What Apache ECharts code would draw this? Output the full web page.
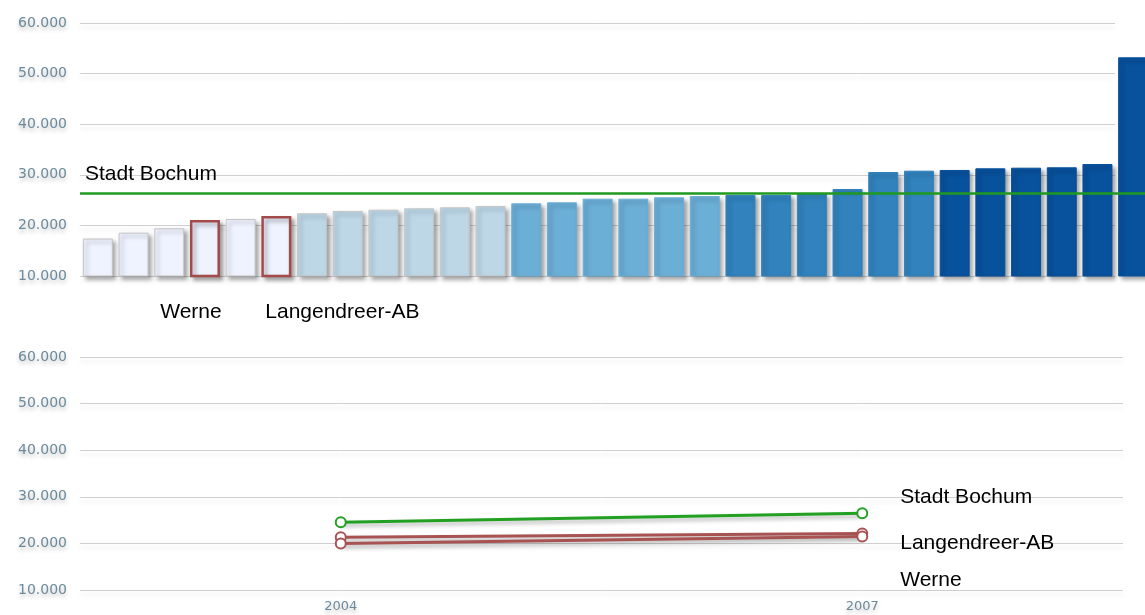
<!DOCTYPE html>
<html><head><meta charset="utf-8">
<script src="https://cdn.jsdelivr.net/npm/echarts@6/dist/echarts.min.js"></script>
<style>html,body{margin:0;padding:0;background:#fff}#c{width:1145px;height:615px}</style>
</head><body><div id="c"></div>
<script>
// ---- data ----
const districts = ['1','2','3','Werne','5','Langendreer-AB','7','8','9','10','11','12','13','14','15','16','17','18','19','20','21','22','23','24','25','26','27','28','29','30'];
const incomeValues = [17400,18560,19430,21070,21260,21860,22390,22850,23100,23370,23570,23830,24360,24560,25280,25280,25550,25810,26010,26010,26400,27190,30550,30810,30950,31280,31400,31480,32130,53220];
const classColors = ['#eff3ff','#bdd7e7','#6baed6','#3182bd','#08519c'];
const cityAverage = 26340;
const cityName = 'Stadt Bochum';
const highlighted = ['Werne','Langendreer-AB'];
const years = ['2004','2007'];
const bochumSeries = [24530,26460];
const langendreerSeries = [21300,22100];
const werneSeries = [20000,21500];
const yTicks = {min:10000,max:60000,interval:10000};

// ---- chart ----
const fmt = v => String(v).replace(/\B(?=(\d{3})+(?!\d))/g,'.');
const axisLabelStyle = {color:'#6b8a9c',fontFamily:'DejaVu Sans',fontSize:14,margin:13,
  formatter:fmt,textShadowColor:'rgba(0,0,0,0.25)',textShadowBlur:4,textShadowOffsetY:3};
const splitLine = {show:true,lineStyle:{color:'#cfcfcf',width:1,shadowColor:'rgba(0,0,0,0.12)',shadowBlur:4,shadowOffsetY:4}};
const textFont = {color:'#000',fontFamily:'Liberation Sans',fontSize:21};
const noAxis = {axisLine:{show:false},axisTick:{show:false},axisLabel:{show:false},splitLine:{show:false}};

const barData = incomeValues.map((v,i)=>{
  const cls = Math.floor(i/6);
  const name = districts[i];
  const hl = highlighted.indexOf(name);
  const item = {value:v,itemStyle:{color:classColors[cls],
    borderColor: hl>=0 ? '#a34a4a' : (cls<2 ? '#c4c4c4' : classColors[cls]),
    borderWidth: hl>=0 ? 2.5 : 1}};
  if(hl>=0){
    item.label = Object.assign({show:true,position:'bottom',distance:24,formatter:name,
      offset: hl===0 ? [-14,0] : [66,0]},textFont);
  }
  return item;
});

const lineCommon = (name,data,color,dy)=>({
  type:'line',name:name,data:data,xAxisIndex:1,yAxisIndex:1,
  symbol:'emptyCircle',symbolSize:10,
  lineStyle:{color:color,width:3,shadowColor:'rgba(0,0,0,0.3)',shadowBlur:4,shadowOffsetY:3},
  itemStyle:{color:color,borderColor:color,borderWidth:2.5},
  endLabel:Object.assign({show:true,formatter:name,offset:[30,dy]},textFont),
  z:3
});

const chart = echarts.init(document.getElementById('c'),null,{renderer:'canvas'});
chart.setOption({
  animation:false,
  backgroundColor:'#fff',
  grid:[{left:80,width:1071,top:23,height:253,outerBoundsMode:'none'},
        {left:80,right:22,top:357,height:233,outerBoundsMode:'none'},
        {left:80,right:30,top:23,height:253,outerBoundsMode:'none'}],
  xAxis:[
    Object.assign({type:'category',gridIndex:0,data:districts},noAxis),
    {type:'category',gridIndex:1,data:years,boundaryGap:true,axisLine:{show:false},axisTick:{show:false},
      axisLabel:{color:'#6b8a9c',fontFamily:'DejaVu Sans',fontSize:13,margin:10,
        textShadowColor:'rgba(0,0,0,0.25)',textShadowBlur:4,textShadowOffsetY:3}},
    Object.assign({type:'value',gridIndex:2,min:0,max:1},noAxis)
  ],
  yAxis:[
    Object.assign({type:'value',gridIndex:0},noAxis,yTicks),
    Object.assign({type:'value',gridIndex:1,axisLine:{show:false},axisTick:{show:false},axisLabel:axisLabelStyle,splitLine:splitLine},yTicks),
    Object.assign({type:'value',gridIndex:2,axisLine:{show:false},axisTick:{show:false},axisLabel:axisLabelStyle,splitLine:splitLine},yTicks)
  ],
  series:[
    {type:'bar',xAxisIndex:0,yAxisIndex:0,data:barData,barWidth:30,z:3,
      itemStyle:{shadowColor:'rgba(0,0,0,0.35)',shadowBlur:4,shadowOffsetX:3,shadowOffsetY:3},
      markLine:{silent:true,symbol:['none','none'],
        lineStyle:{color:'#1f9a1f',width:2.5,type:'solid'},
        label:Object.assign({show:true,position:'insideStartTop',formatter:cityName,distance:[5,9]},textFont),
        data:[{yAxis:cityAverage}]}},
    lineCommon(cityName,bochumSeries,'#22a022',-16),
    lineCommon('Langendreer-AB',langendreerSeries,'#a85252',10),
    lineCommon('Werne',werneSeries,'#a85252',44)
  ]
});
</script></body></html>
